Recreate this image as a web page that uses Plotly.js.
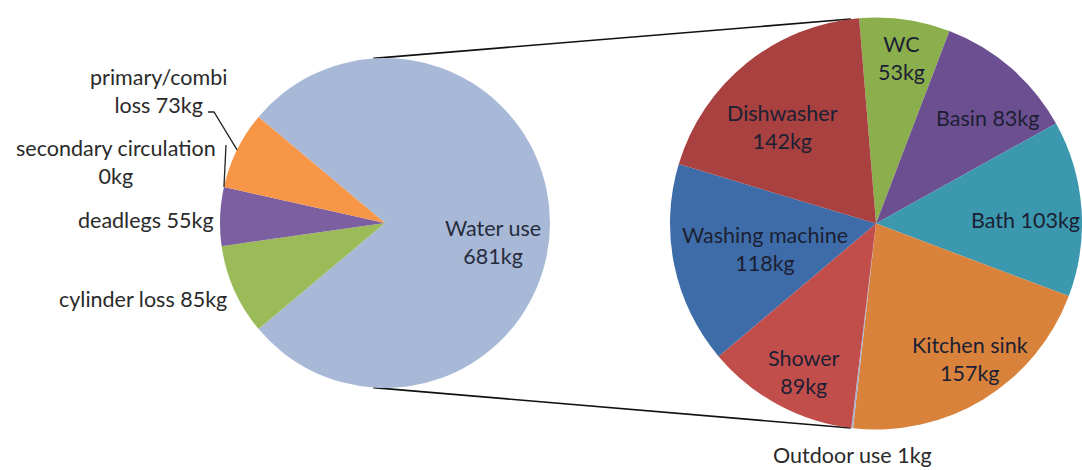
<!DOCTYPE html>
<html><head><meta charset="utf-8">
<script src="https://cdn.plot.ly/plotly-3.0.1.min.js"></script>
<style>html,body{margin:0;padding:0;background:#fff;overflow:hidden}</style>
</head><body><div id="chart" style="width:1082px;height:470px"></div>
<script>
// ---- data ----
const leftLabels = ['Water use', 'cylinder loss', 'deadlegs', 'secondary circulation', 'primary/combi loss'];
const leftValues = [681, 85, 55, 0, 73];
const rightLabels = ['WC', 'Basin', 'Bath', 'Kitchen sink', 'Outdoor use', 'Shower', 'Washing machine', 'Dishwasher'];
const rightValues = [53, 83, 103, 157, 1, 89, 118, 142];
const unit = 'kg';

// ---- styles ----
const leftColors = ['#A8B9D8', '#9BBB59', '#7B5FA1', '#4BACC6', '#F79646'];
const rightColors = ['#8CAF4E', '#6C4F90', '#3B98AF', '#D8823C', '#A3B4D4', '#C24E4C', '#3E6CA8', '#A8413F'];

const W = 1082, H = 470;
const LC = {x: 385, y: 223, r: 165};
const RC = {x: 876, y: 223.5, r: 206};
const px = x => x / W, py = y => 1 - y / H;
const FONT = 'Lato, "Open Sans", sans-serif';
const FS = 21.5;

const rightTotal = rightValues.reduce((a, b) => a + b, 0);
// pie-of-pie: the aggregate slice is sized by the secondary pie's total
const leftSizes = leftValues.map((v, i) => i === 0 ? rightTotal : v);
const leftTotal = leftSizes.reduce((a, b) => a + b, 0);
const leftRotation = 90 - 180 * leftSizes[0] / leftTotal;   // aggregate slice centred on the right
const rightRotation = -4.7;

function midAngle(sizes, total, rotation, i) { // math degrees, clockwise pies
  let start = 90 - rotation;
  for (let k = 0; k < i; k++) start -= 360 * sizes[k] / total;
  return start - 180 * sizes[i] / total;
}
function onCircle(c, deg) {
  const a = deg * Math.PI / 180;
  return [c.x + c.r * Math.cos(a), c.y - c.r * Math.sin(a)];
}
function labelText(lbl, val, brk) {
  const words = (lbl + ' ' + val + unit).split(' ');
  if (!brk) return words.join(' ');
  return words.slice(0, brk).join(' ') + '<br>' + words.slice(brk).join(' ');
}

const traces = [
  {type: 'pie', labels: leftLabels, values: leftSizes, sort: false, direction: 'clockwise',
   rotation: leftRotation, textinfo: 'none', hoverinfo: 'label',
   marker: {colors: leftColors, line: {width: 0}},
   domain: {x: [px(LC.x - LC.r), px(LC.x + LC.r)], y: [py(LC.y + LC.r), py(LC.y - LC.r)]}},
  {type: 'pie', labels: rightLabels, values: rightValues, sort: false, direction: 'clockwise',
   rotation: rightRotation, textinfo: 'none', hoverinfo: 'label',
   marker: {colors: rightColors, line: {width: 0}},
   domain: {x: [px(RC.x - RC.r), Math.min(1, px(RC.x + RC.r))], y: [py(RC.y + RC.r), py(RC.y - RC.r)]}}
];

// label placement (pixel positions of text-block centres)
const leftLabelPos = [
  {i: 0, x: 493, y: 242, brk: 2, inside: true},
  {i: 1, x: 143, y: 299, brk: 0},
  {i: 2, x: 146, y: 220, brk: 0},
  {i: 3, x: 116, y: 162, brk: 2},
  {i: 4, x: 158, y: 91, brk: 1}
];
const rightLabelPos = [
  {i: 0, x: 901, y: 58, brk: 1},
  {i: 1, x: 987, y: 118, brk: 0},
  {i: 2, x: 1025, y: 220, brk: 0},
  {i: 3, x: 970, y: 359, brk: 2},
  {i: 4, x: 852, y: 455, brk: 0, outside: true},
  {i: 5, x: 804, y: 372, brk: 1},
  {i: 6, x: 765, y: 249, brk: 2},
  {i: 7, x: 782, y: 127, brk: 1}
];

const annotations = [];
leftLabelPos.forEach(p => annotations.push({
  xref: 'paper', yref: 'paper', x: px(p.x), y: py(p.y), xanchor: 'center', yanchor: 'middle',
  showarrow: false, align: 'center', text: labelText(leftLabels[p.i], leftValues[p.i], p.brk),
  font: {family: FONT, size: FS, color: p.inside ? '#262c3c' : '#2a2a2a'}
}));
rightLabelPos.forEach(p => annotations.push({
  xref: 'paper', yref: 'paper', x: px(p.x), y: py(p.y), xanchor: 'center', yanchor: 'middle',
  showarrow: false, align: 'center', text: labelText(rightLabels[p.i], rightValues[p.i], p.brk),
  font: {family: FONT, size: FS, color: p.outside ? '#2a2a2a' : '#1c1f33'}
}));

// leader lines and series connector lines
const P = (x, y) => px(x) + ' ' + py(y);
const primPt = onCircle(LC, midAngle(leftSizes, leftTotal, leftRotation, 4));
const secPt = onCircle(LC, midAngle(leftSizes, leftTotal, leftRotation, 3));
const lt = onCircle(LC, 94), lb = onCircle(LC, 266);
const rt = onCircle(RC, 97), rb = onCircle(RC, 263);
const shapes = [
  {type: 'path', xref: 'paper', yref: 'paper', path: 'M ' + P(208, 112) + ' L ' + P(214, 112) + ' L ' + P(primPt[0], primPt[1]),
   line: {color: '#222', width: 1.3}},
  {type: 'path', xref: 'paper', yref: 'paper', path: 'M ' + P(226, 145) + ' L ' + P(secPt[0], secPt[1]),
   line: {color: '#222', width: 1.3}},
  {type: 'line', xref: 'paper', yref: 'paper', x0: px(lt[0]), y0: py(lt[1]), x1: px(rt[0]), y1: py(rt[1]),
   line: {color: '#111', width: 1.6}, layer: 'below'},
  {type: 'line', xref: 'paper', yref: 'paper', x0: px(lb[0]), y0: py(lb[1]), x1: px(rb[0]), y1: py(rb[1]),
   line: {color: '#111', width: 1.6}, layer: 'below'}
];

Plotly.newPlot('chart', traces, {
  width: W, height: H, margin: {l: 0, r: 0, t: 0, b: 0},
  showlegend: false, paper_bgcolor: '#fff', plot_bgcolor: '#fff',
  annotations: annotations, shapes: shapes
}, {displayModeBar: false, staticPlot: true});
</script></body></html>
